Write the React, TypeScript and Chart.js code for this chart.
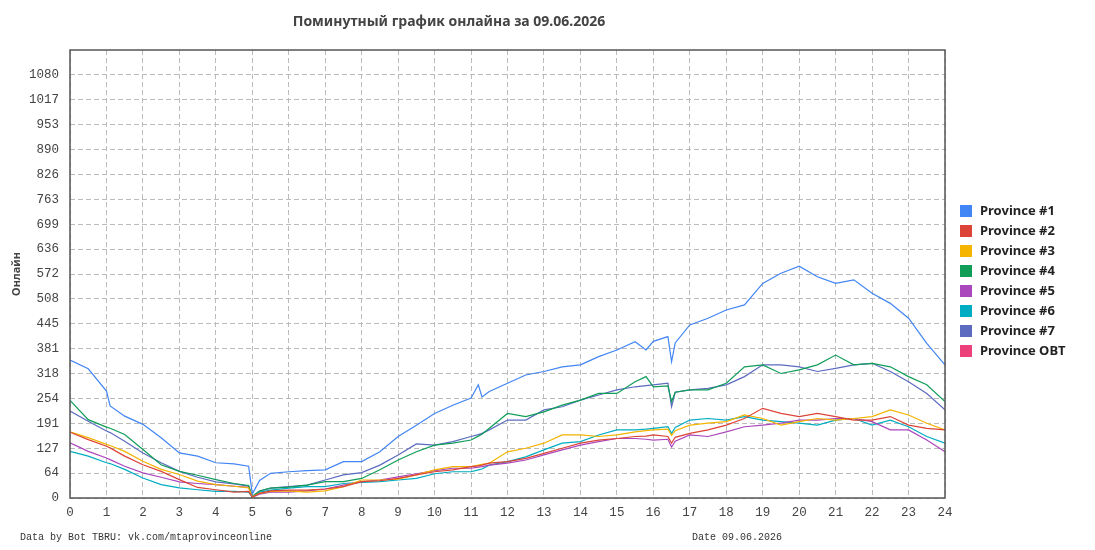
import React, { useEffect, useRef } from 'react';
import { Chart, registerables } from 'chart.js';

Chart.register(...registerables);

const TITLE = 'Поминутный график онлайна за 09.06.2026';
const Y_TITLE = 'Онлайн';
const FOOTER_LEFT = 'Data by Bot TBRU: vk.com/mtaprovinceonline';
const FOOTER_DATE = 'Date 09.06.2026';

const Y_MAX = 1144;
const Y_LABELS = ['0', '64', '127', '191', '254', '318', '381', '445', '508', '572', '636', '699', '763', '826', '890', '953', '1017', '1080'];

const HOURS = [0, 0.5, 1, 1.1, 1.5, 2, 2.5, 3, 3.5, 4, 4.5, 4.9, 5, 5.2, 5.5, 6, 6.5, 7, 7.5, 8, 8.5, 9, 9.5, 10, 10.5, 11, 11.2, 11.3, 11.5, 12, 12.5, 13, 13.5, 14, 14.5, 15, 15.5, 15.8, 16, 16.4, 16.5, 16.6, 17, 17.5, 18, 18.5, 19, 19.5, 20, 20.5, 21, 21.5, 22, 22.5, 23, 23.5, 24];

const P1 = [352, 330, 273, 235, 209, 188, 154, 115, 107, 90, 87, 81, 10, 45, 63, 67, 70, 72, 93, 93, 118, 157, 186, 216, 237, 255, 289, 258, 272, 293, 314, 323, 335, 340, 361, 378, 399, 378, 400, 412, 348, 396, 442, 459, 480, 493, 548, 574, 592, 565, 548, 557, 523, 497, 459, 395, 340];
const P2 = [168, 149, 132, 128, 107, 85, 68, 47, 27, 21, 15, 17, 2, 12, 18, 20, 20, 23, 29, 42, 44, 50, 59, 67, 72, 80, 82, 84, 89, 93, 101, 114, 127, 140, 148, 152, 157, 158, 161, 157, 140, 155, 165, 174, 186, 203, 229, 216, 208, 216, 208, 199, 199, 208, 186, 178, 174];
const P3 = [169, 154, 137, 134, 119, 94, 73, 60, 43, 34, 30, 26, 3, 12, 17, 18, 15, 18, 29, 46, 46, 48, 59, 72, 80, 80, 84, 86, 89, 118, 127, 140, 161, 161, 157, 161, 169, 172, 174, 176, 160, 172, 186, 191, 195, 212, 203, 186, 195, 203, 199, 203, 208, 225, 212, 191, 174];
const P4 = [249, 200, 181, 178, 162, 124, 85, 68, 58, 47, 37, 32, 4, 18, 25, 28, 33, 42, 42, 50, 72, 97, 118, 135, 140, 148, 158, 163, 178, 216, 208, 220, 237, 250, 267, 267, 297, 310, 284, 286, 246, 270, 276, 276, 293, 335, 340, 318, 327, 340, 365, 340, 344, 335, 310, 289, 246];
const P5 = [141, 119, 102, 98, 81, 64, 53, 41, 37, 34, 30, 27, 2, 10, 15, 15, 18, 23, 33, 42, 46, 54, 62, 70, 76, 76, 79, 80, 84, 89, 97, 110, 123, 135, 144, 152, 152, 150, 148, 150, 130, 145, 161, 157, 169, 182, 186, 191, 199, 199, 203, 203, 195, 174, 174, 148, 118];
const P6 = [119, 107, 90, 88, 73, 51, 34, 26, 21, 17, 17, 15, 2, 15, 20, 25, 29, 29, 37, 40, 42, 46, 50, 62, 67, 67, 72, 74, 84, 93, 105, 123, 140, 144, 161, 174, 174, 176, 178, 182, 165, 180, 199, 203, 199, 208, 199, 195, 191, 186, 199, 203, 186, 199, 182, 157, 140];
const P7 = [222, 196, 171, 167, 145, 115, 90, 68, 53, 41, 36, 30, 4, 18, 25, 29, 33, 46, 59, 65, 84, 110, 138, 135, 144, 157, 162, 165, 174, 199, 199, 225, 233, 250, 263, 276, 284, 287, 289, 293, 233, 270, 276, 280, 289, 310, 340, 340, 335, 323, 331, 340, 344, 323, 297, 267, 225];
const POBT: number[] = [];

const SERIES_NAMES = ['Province #1', 'Province #2', 'Province #3', 'Province #4', 'Province #5', 'Province #6', 'Province #7', 'Province OBT'];
const SERIES_VALUES = [P1, P2, P3, P4, P5, P6, P7, POBT];
const SERIES_COLORS = ['#4285F4', '#DB4437', '#F4B400', '#0F9D58', '#AB47BC', '#00ACC1', '#5C6BC0', '#EC407A'];

const MONO = '"Liberation Mono", "DejaVu Sans Mono", monospace';
const SANS = '"Noto Sans", "DejaVu Sans", sans-serif';

const decorPlugin = {
  id: 'decor',
  afterDatasetsDraw(chart: any) {
    const { ctx, chartArea } = chart;
    ctx.save();
    ctx.strokeStyle = '#555555';
    ctx.lineWidth = 1.5;
    ctx.strokeRect(chartArea.left, chartArea.top, chartArea.right - chartArea.left, chartArea.bottom - chartArea.top);
    ctx.restore();
  },
  afterDraw(chart: any) {
    const { ctx, chartArea } = chart;
    ctx.save();
    // title
    ctx.fillStyle = '#444444';
    ctx.font = `bold 14px ${SANS}`;
    ctx.textAlign = 'center';
    ctx.textBaseline = 'middle';
    ctx.fillText(TITLE, 449, 22);
    // footers
    ctx.font = `10px ${MONO}`;
    ctx.textAlign = 'left';
    ctx.fillStyle = '#333333';
    ctx.fillText(FOOTER_LEFT, 20, 537);
    ctx.fillText(FOOTER_DATE, 692, 537);
    // legend
    const lx = chartArea.right + 15;
    const y0 = 211;
    chart.data.datasets.forEach((ds: any, i: number) => {
      const cy = y0 + i * 20;
      ctx.fillStyle = ds.borderColor;
      ctx.fillRect(lx, cy - 6, 12, 12);
      ctx.fillStyle = '#222222';
      ctx.font = `bold 13px ${SANS}`;
      ctx.textBaseline = 'middle';
      ctx.fillText(ds.label, lx + 20, cy + 0.5);
    });
    ctx.restore();
  },
};

export default function App() {
  const ref = useRef<HTMLCanvasElement>(null);
  useEffect(() => {
    document.body.style.margin = '0';
    const chart = new Chart(ref.current as HTMLCanvasElement, {
      type: 'line',
      data: {
        datasets: SERIES_NAMES.map((name, i) => ({
          label: name,
          data: SERIES_VALUES[i].map((v, j) => ({ x: HOURS[j], y: v })),
          borderColor: SERIES_COLORS[i],
          backgroundColor: SERIES_COLORS[i],
          borderWidth: 1.2,
          pointRadius: 0,
          tension: 0,
          fill: false,
        })),
      },
      options: {
        animation: false,
        responsive: true,
        maintainAspectRatio: false,
        layout: { padding: { top: 50, right: 150, bottom: 0, left: 10 } },
        plugins: {
          legend: { display: false },
          title: { display: false },
          tooltip: { enabled: false },
        },
        scales: {
          x: {
            type: 'linear',
            min: 0,
            max: 24,
            ticks: {
              stepSize: 1,
              padding: 7,
              color: '#444444',
              font: { family: MONO, size: 12.5 },
            },
            grid: { color: '#bbbbbb', lineWidth: 1, drawTicks: false },
            border: { display: false, dash: [5, 3] },
            afterFit: (scale: any) => { scale.height = 52; },
          },
          y: {
            type: 'linear',
            min: 0,
            max: Y_MAX,
            afterBuildTicks: (scale: any) => {
              scale.ticks = Y_LABELS.map((_, i) => ({ value: (i * Y_MAX) / 18 }));
            },
            ticks: {
              padding: 11,
              color: '#444444',
              font: { family: MONO, size: 12.5 },
              callback: (_v: any, i: number) => Y_LABELS[i],
            },
            grid: { color: '#bbbbbb', lineWidth: 1, drawTicks: false },
            border: { display: false, dash: [5, 3] },
            title: {
              display: true,
              text: Y_TITLE,
              color: '#444444',
              font: { family: SANS, size: 11, weight: 'bold' },
              padding: 0,
            },
            afterFit: (scale: any) => { scale.width = 60; },
          },
        },
      },
      plugins: [decorPlugin],
    } as any);
    return () => chart.destroy();
  }, []);
  return (
    <div style={{ width: 1095, height: 550, position: 'relative' }}>
      <canvas ref={ref} />
    </div>
  );
}
